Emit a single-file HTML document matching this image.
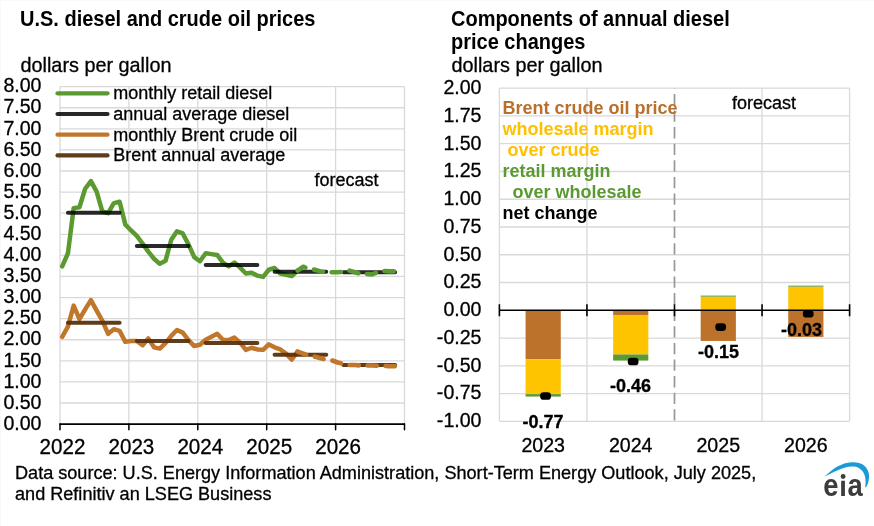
<!DOCTYPE html>
<html><head><meta charset="utf-8"><style>
html,body{margin:0;padding:0;background:#fff;}
body{width:874px;height:526px;overflow:hidden;}
svg{display:block;}
</style></head><body>
<svg width="874" height="526" viewBox="0 0 874 526" font-family="Liberation Sans, Arial, sans-serif"><rect width="874" height="526" fill="#fff"/><path d="M0,0.5H874M0.5,0V526" stroke="#f9f9f9" stroke-width="1"/><text transform="translate(20.00,26.00) scale(1,1.06)" font-size="20" font-weight="bold">U.S. diesel and crude oil prices</text><text transform="translate(20.50,71.60) scale(1,1.03)" font-size="19.85" stroke="#000" stroke-width="0.3">dollars per gallon</text><path d="M60.0,403.01H404.5M60.0,381.92H404.5M60.0,360.83H404.5M60.0,339.74H404.5M60.0,318.65H404.5M60.0,297.56H404.5M60.0,276.47H404.5M60.0,255.38H404.5M60.0,234.29H404.5M60.0,213.20H404.5M60.0,192.11H404.5M60.0,171.02H404.5M60.0,149.93H404.5M60.0,128.84H404.5M60.0,107.75H404.5M60.0,86.66H404.5M60.00,86.66V424.0M128.90,86.66V424.0M197.80,86.66V424.0M266.70,86.66V424.0M335.60,86.66V424.0M404.50,86.66V424.0" stroke="#d9d9d9" stroke-width="1.3" fill="none"/><text transform="translate(41.50,429.80) scale(1,1.05)" font-size="19.6" text-anchor="end" stroke="#000" stroke-width="0.3">0.00</text><text transform="translate(41.50,408.71) scale(1,1.05)" font-size="19.6" text-anchor="end" stroke="#000" stroke-width="0.3">0.50</text><text transform="translate(41.50,387.62) scale(1,1.05)" font-size="19.6" text-anchor="end" stroke="#000" stroke-width="0.3">1.00</text><text transform="translate(41.50,366.53) scale(1,1.05)" font-size="19.6" text-anchor="end" stroke="#000" stroke-width="0.3">1.50</text><text transform="translate(41.50,345.44) scale(1,1.05)" font-size="19.6" text-anchor="end" stroke="#000" stroke-width="0.3">2.00</text><text transform="translate(41.50,324.35) scale(1,1.05)" font-size="19.6" text-anchor="end" stroke="#000" stroke-width="0.3">2.50</text><text transform="translate(41.50,303.26) scale(1,1.05)" font-size="19.6" text-anchor="end" stroke="#000" stroke-width="0.3">3.00</text><text transform="translate(41.50,282.17) scale(1,1.05)" font-size="19.6" text-anchor="end" stroke="#000" stroke-width="0.3">3.50</text><text transform="translate(41.50,261.08) scale(1,1.05)" font-size="19.6" text-anchor="end" stroke="#000" stroke-width="0.3">4.00</text><text transform="translate(41.50,239.99) scale(1,1.05)" font-size="19.6" text-anchor="end" stroke="#000" stroke-width="0.3">4.50</text><text transform="translate(41.50,218.90) scale(1,1.05)" font-size="19.6" text-anchor="end" stroke="#000" stroke-width="0.3">5.00</text><text transform="translate(41.50,197.81) scale(1,1.05)" font-size="19.6" text-anchor="end" stroke="#000" stroke-width="0.3">5.50</text><text transform="translate(41.50,176.72) scale(1,1.05)" font-size="19.6" text-anchor="end" stroke="#000" stroke-width="0.3">6.00</text><text transform="translate(41.50,155.63) scale(1,1.05)" font-size="19.6" text-anchor="end" stroke="#000" stroke-width="0.3">6.50</text><text transform="translate(41.50,134.54) scale(1,1.05)" font-size="19.6" text-anchor="end" stroke="#000" stroke-width="0.3">7.00</text><text transform="translate(41.50,113.45) scale(1,1.05)" font-size="19.6" text-anchor="end" stroke="#000" stroke-width="0.3">7.50</text><text transform="translate(41.50,92.36) scale(1,1.05)" font-size="19.6" text-anchor="end" stroke="#000" stroke-width="0.3">8.00</text><path d="M60.00,424.0V429.7M128.90,424.0V429.7M197.80,424.0V429.7M266.70,424.0V429.7M335.60,424.0V429.7M404.50,424.0V429.7" stroke="#000" stroke-width="1.5" fill="none" stroke-linecap="round"/><path d="M59.5,424.1H405.0" stroke="#000" stroke-width="1.9" fill="none"/><text transform="translate(62.50,453.80) scale(1,1.03)" font-size="20.6" text-anchor="middle" stroke="#000" stroke-width="0.3">2022</text><text transform="translate(131.40,453.80) scale(1,1.03)" font-size="20.6" text-anchor="middle" stroke="#000" stroke-width="0.3">2023</text><text transform="translate(200.30,453.80) scale(1,1.03)" font-size="20.6" text-anchor="middle" stroke="#000" stroke-width="0.3">2024</text><text transform="translate(269.20,453.80) scale(1,1.03)" font-size="20.6" text-anchor="middle" stroke="#000" stroke-width="0.3">2025</text><text transform="translate(338.10,453.80) scale(1,1.03)" font-size="20.6" text-anchor="middle" stroke="#000" stroke-width="0.3">2026</text><path d="M57.5,93.30H107.5" stroke="#5b9a31" stroke-width="4.2" stroke-linecap="round" opacity="1"/><text x="113.20" y="99.30" font-size="18" stroke="#000" stroke-width="0.3">monthly retail diesel</text><path d="M57.5,114.00H107.5" stroke="#000000" stroke-width="4.2" stroke-linecap="round" opacity="0.84"/><text x="113.20" y="120.00" font-size="18" stroke="#000" stroke-width="0.3">annual average diesel</text><path d="M57.5,134.70H107.5" stroke="#c0772c" stroke-width="4.2" stroke-linecap="round" opacity="1"/><text x="113.20" y="140.70" font-size="18" stroke="#000" stroke-width="0.3">monthly Brent crude oil</text><path d="M57.5,155.40H107.5" stroke="#58320e" stroke-width="4.2" stroke-linecap="round" opacity="0.95"/><text x="113.20" y="161.40" font-size="18" stroke="#000" stroke-width="0.3">Brent annual average</text><text x="314.50" y="185.60" font-size="18" stroke="#000" stroke-width="0.3">forecast</text><polyline points="62.20,336.79 67.94,326.66 73.68,305.57 79.42,319.07 85.16,309.37 90.90,300.09 96.64,310.64 102.38,320.76 108.12,333.83 113.86,329.20 119.60,330.88 125.34,341.85 131.08,341.01 136.82,341.01 142.56,345.22 148.30,338.47 154.04,347.33 159.78,348.60 165.52,343.11 171.26,335.94 177.00,330.04 182.74,332.57 188.48,340.16 194.22,346.07 199.96,344.80 205.70,339.74 211.44,336.79 217.18,333.83 222.92,339.74 228.66,340.16 234.40,337.63 240.14,342.69 245.88,349.86 251.62,347.75 257.36,349.44 263.10,349.86 268.84,344.38 274.58,347.33 280.32,349.44 286.06,353.66 291.80,359.56 297.54,351.55" fill="none" stroke="#c0772c" stroke-width="4.5" stroke-linejoin="round" stroke-linecap="round"/><path d="M67.94,322.87H119.60M136.82,341.01H188.48M205.70,343.11H257.36M274.58,354.71H326.24M343.46,365.05H395.12" stroke="#58320e" stroke-width="4" stroke-linecap="round" fill="none" opacity="0.95"/><polyline points="297.54,351.55 303.28,353.66 309.02,355.77 314.76,356.61 320.50,358.30 326.24,359.56 331.98,360.41 337.72,362.52 343.46,363.78 349.20,365.05 354.94,365.05 360.68,365.47 366.42,365.47 372.16,365.47 377.90,365.89 383.64,365.89 389.38,366.31 395.12,366.31" fill="none" stroke="#c0772c" stroke-width="4.6" stroke-linejoin="round" stroke-linecap="round" stroke-dasharray="9.2 8.8"/><polyline points="62.20,266.35 67.94,253.27 73.68,208.14 79.42,207.29 85.16,188.74 90.90,181.14 96.64,191.69 102.38,211.51 108.12,213.20 113.86,203.08 119.60,201.81 125.34,224.59 131.08,230.49 136.82,235.98 142.56,243.57 148.30,251.58 154.04,258.75 159.78,263.82 165.52,260.86 171.26,239.77 177.00,231.34 182.74,233.45 188.48,244.41 194.22,257.07 199.96,261.29 205.70,253.27 211.44,254.11 217.18,254.96 222.92,262.55 228.66,266.35 234.40,262.55 240.14,267.61 245.88,273.52 251.62,272.67 257.36,275.63 263.10,276.89 268.84,269.72 274.58,268.03 280.32,273.52 286.06,274.78 291.80,276.05 297.54,270.56" fill="none" stroke="#5b9a31" stroke-width="4.5" stroke-linejoin="round" stroke-linecap="round"/><path d="M67.94,212.78H119.60M136.82,246.10H188.48M205.70,265.08H257.36M274.58,271.83H326.24M343.46,272.25H395.12" stroke="#000000" stroke-width="4" stroke-linecap="round" fill="none" opacity="0.84"/><polyline points="297.54,270.56 303.28,266.77 309.02,268.88 314.76,269.72 320.50,271.41 326.24,272.25 331.98,272.25 337.72,272.25 343.46,271.83 349.20,270.56 354.94,272.25 360.68,273.94 366.42,273.94 372.16,274.36 377.90,272.25 383.64,270.99 389.38,271.41 395.12,271.41" fill="none" stroke="#5b9a31" stroke-width="4.6" stroke-linejoin="round" stroke-linecap="round" stroke-dasharray="9.2 8.8"/><text transform="translate(451.00,26.00) scale(1,1.06)" font-size="20" font-weight="bold">Components of annual diesel</text><text transform="translate(451.00,49.00) scale(1,1.06)" font-size="20" font-weight="bold">price changes</text><text transform="translate(451.50,72.00) scale(1,1.03)" font-size="19.85" stroke="#000" stroke-width="0.3">dollars per gallon</text><path d="M499.4,88.20H849.6M499.4,115.96H849.6M499.4,143.72H849.6M499.4,171.48H849.6M499.4,199.24H849.6M499.4,227.00H849.6M499.4,254.76H849.6M499.4,282.52H849.6M499.4,338.04H849.6M499.4,365.80H849.6M499.4,393.56H849.6M499.4,421.32H849.6M499.40,88.20V421.32M586.95,88.20V421.32M762.05,88.20V421.32M849.60,88.20V421.32" stroke="#d9d9d9" stroke-width="1.3" fill="none"/><path d="M674.50,88.20V421.32" stroke="#979797" stroke-width="1.7" stroke-dasharray="11.3 5.3" stroke-dashoffset="10.9"/><text transform="translate(481.50,94.00) scale(1,1.03)" font-size="19.6" text-anchor="end" stroke="#000" stroke-width="0.3">2.00</text><text transform="translate(481.50,121.76) scale(1,1.03)" font-size="19.6" text-anchor="end" stroke="#000" stroke-width="0.3">1.75</text><text transform="translate(481.50,149.52) scale(1,1.03)" font-size="19.6" text-anchor="end" stroke="#000" stroke-width="0.3">1.50</text><text transform="translate(481.50,177.28) scale(1,1.03)" font-size="19.6" text-anchor="end" stroke="#000" stroke-width="0.3">1.25</text><text transform="translate(481.50,205.04) scale(1,1.03)" font-size="19.6" text-anchor="end" stroke="#000" stroke-width="0.3">1.00</text><text transform="translate(481.50,232.80) scale(1,1.03)" font-size="19.6" text-anchor="end" stroke="#000" stroke-width="0.3">0.75</text><text transform="translate(481.50,260.56) scale(1,1.03)" font-size="19.6" text-anchor="end" stroke="#000" stroke-width="0.3">0.50</text><text transform="translate(481.50,288.32) scale(1,1.03)" font-size="19.6" text-anchor="end" stroke="#000" stroke-width="0.3">0.25</text><text transform="translate(481.50,316.08) scale(1,1.03)" font-size="19.6" text-anchor="end" stroke="#000" stroke-width="0.3">0.00</text><text transform="translate(481.50,343.84) scale(1,1.03)" font-size="19.6" text-anchor="end" stroke="#000" stroke-width="0.3">-0.25</text><text transform="translate(481.50,371.60) scale(1,1.03)" font-size="19.6" text-anchor="end" stroke="#000" stroke-width="0.3">-0.50</text><text transform="translate(481.50,399.36) scale(1,1.03)" font-size="19.6" text-anchor="end" stroke="#000" stroke-width="0.3">-0.75</text><text transform="translate(481.50,427.12) scale(1,1.03)" font-size="19.6" text-anchor="end" stroke="#000" stroke-width="0.3">-1.00</text><rect x="525.57" y="310.28" width="35.2" height="48.86" fill="#bc722a"/><rect x="525.57" y="359.14" width="35.2" height="34.98" fill="#ffc400"/><rect x="525.57" y="394.12" width="35.2" height="2.44" fill="#5b9a31"/><rect x="613.12" y="310.28" width="35.2" height="4.77" fill="#bc722a"/><rect x="613.12" y="315.05" width="35.2" height="39.42" fill="#ffc400"/><rect x="613.12" y="354.47" width="35.2" height="6.11" fill="#5b9a31"/><rect x="700.67" y="310.28" width="35.2" height="30.65" fill="#bc722a"/><rect x="700.67" y="296.62" width="35.2" height="13.66" fill="#ffc400"/><rect x="700.67" y="295.62" width="35.2" height="1.00" fill="#5b9a31"/><rect x="788.23" y="310.28" width="35.2" height="26.65" fill="#bc722a"/><rect x="788.23" y="286.63" width="35.2" height="23.65" fill="#ffc400"/><rect x="788.23" y="285.63" width="35.2" height="1.00" fill="#5b9a31"/><path d="M499.4,310.28H849.6M499.40,304.28v12M586.95,304.28v12M674.50,304.28v12M762.05,304.28v12M849.60,304.28v12" stroke="#000" stroke-width="1.6" fill="none"/><rect x="540.17" y="392.18" width="10.8" height="7.6" rx="3.4" fill="#000"/><rect x="627.73" y="357.76" width="10.8" height="7.6" rx="3.4" fill="#000"/><rect x="715.27" y="323.34" width="10.8" height="7.6" rx="3.4" fill="#000"/><rect x="802.83" y="310.01" width="10.8" height="7.6" rx="3.4" fill="#000"/><text transform="translate(542.95,428.00) scale(1,1.03)" font-size="18" font-weight="bold" text-anchor="middle" stroke="#000" stroke-width="0.3">-0.77</text><text transform="translate(630.45,392.20) scale(1,1.03)" font-size="18" font-weight="bold" text-anchor="middle" stroke="#000" stroke-width="0.3">-0.46</text><text transform="translate(718.45,358.20) scale(1,1.03)" font-size="18" font-weight="bold" text-anchor="middle" stroke="#000" stroke-width="0.3">-0.15</text><text transform="translate(801.60,335.80) scale(1,1.03)" font-size="18" font-weight="bold" text-anchor="middle" stroke="#000" stroke-width="0.3">-0.03</text><text transform="translate(543.17,451.80) scale(1,1.04)" font-size="19.6" text-anchor="middle" stroke="#000" stroke-width="0.3">2023</text><text transform="translate(630.73,451.80) scale(1,1.04)" font-size="19.6" text-anchor="middle" stroke="#000" stroke-width="0.3">2024</text><text transform="translate(718.27,451.80) scale(1,1.04)" font-size="19.6" text-anchor="middle" stroke="#000" stroke-width="0.3">2025</text><text transform="translate(805.83,451.80) scale(1,1.04)" font-size="19.6" text-anchor="middle" stroke="#000" stroke-width="0.3">2026</text><text x="732.00" y="109.00" font-size="18" stroke="#000" stroke-width="0.3">forecast</text><text x="502.50" y="114.20" font-size="18" font-weight="bold" fill="#b8702c" xml:space="preserve" style="white-space:pre">Brent crude oil price</text><text x="502.50" y="135.06" font-size="18" font-weight="bold" fill="#ffc000" xml:space="preserve" style="white-space:pre">wholesale margin</text><text x="502.50" y="155.92" font-size="18" font-weight="bold" fill="#ffc000" xml:space="preserve" style="white-space:pre"> over crude</text><text x="502.50" y="176.78" font-size="18" font-weight="bold" fill="#5b9a31" xml:space="preserve" style="white-space:pre">retail margin</text><text x="502.50" y="197.64" font-size="18" font-weight="bold" fill="#5b9a31" xml:space="preserve" style="white-space:pre">  over wholesale</text><text x="502.50" y="218.50" font-size="18" font-weight="bold" xml:space="preserve" style="white-space:pre">net change</text><text x="15.00" y="478.80" font-size="18.1" stroke="#000" stroke-width="0.3">Data source: U.S. Energy Information Administration, Short-Term Energy Outlook, July 2025,</text><text x="15.00" y="499.80" font-size="18.1" stroke="#000" stroke-width="0.3">and Refinitiv an LSEG Business</text><path d="M824.2,476.8 C828,474 832.5,469.3 837.3,466.6 C842,464 846.5,462.6 851.7,462.2 C856,461.9 860.5,462.8 863.5,465 C867,467.5 868.8,471.5 869,475 C869.3,479.5 868.2,484 865.9,487.5 L865.2,486.7 C865.9,483 865.7,479.2 864.9,476.2 C863.8,471.6 860.5,468.2 855.8,466.8 C854.5,466.5 853,466.5 851.7,466.6 C847,466.7 842,468.4 837.3,470.4 C832.5,472.5 828,474.8 824.2,476.8 Z" fill="#1b9ad6"/><clipPath id="eiaclip"><path d="M815,455H874V505H815Z M840,470V480.8H847.5V470Z" clip-rule="evenodd"/></clipPath><g clip-path="url(#eiaclip)"><text transform="translate(823.2,496.2) scale(0.87,1)" font-size="31.5" font-weight="bold" fill="#3c3c3c" letter-spacing="0.87">eia</text></g><circle cx="843.1" cy="476.5" r="2.45" fill="#3c3c3c"/></svg>
</body></html>
